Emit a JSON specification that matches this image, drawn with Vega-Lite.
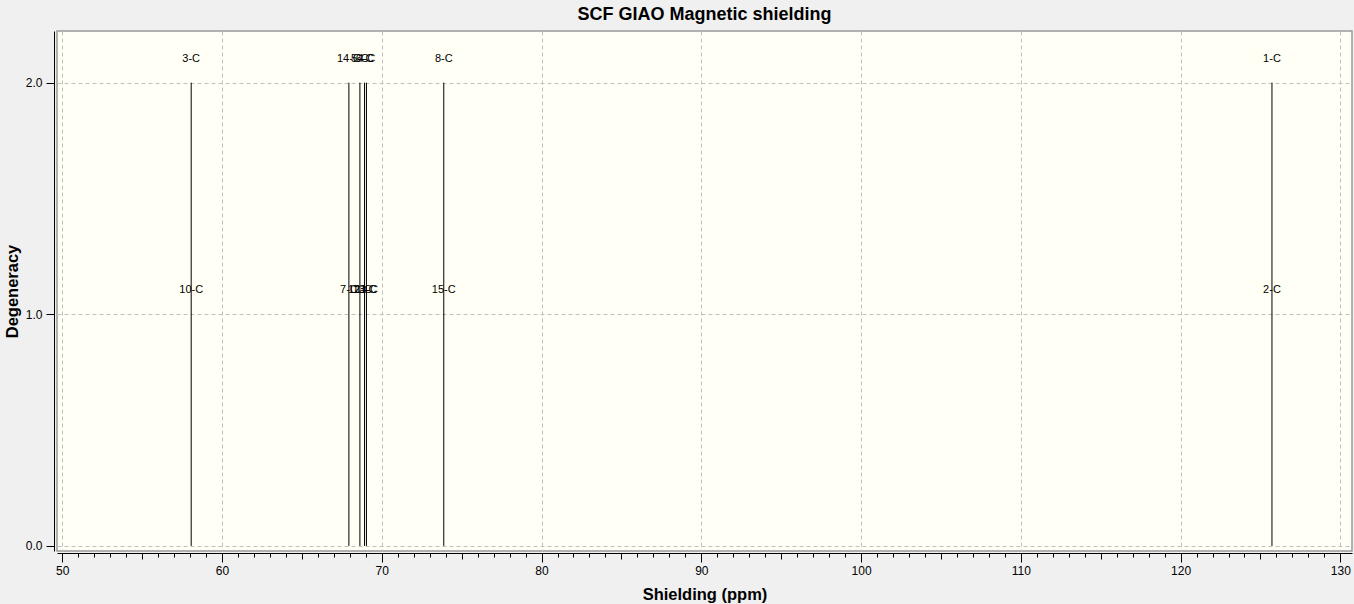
{
  "$schema": "https://vega.github.io/schema/vega-lite/v6.json",
  "autosize": {"type": "none"},
  "width": 1295,
  "height": 520,
  "padding": {"left": 57, "top": 31, "right": 2, "bottom": 53},
  "background": "#f0f0f0",
  "title": {
    "text": "SCF GIAO Magnetic shielding",
    "font": "Liberation Sans",
    "fontSize": 18,
    "fontWeight": "bold",
    "color": "#000000",
    "anchor": "middle",
    "offset": 7
  },
  "config": {
    "view": {"fill": "#fffff5", "stroke": "#999999", "strokeWidth": 1.5},
    "axis": {
      "labelFont": "Liberation Sans",
      "labelFontSize": 12,
      "labelColor": "#000000",
      "titleFont": "Liberation Sans",
      "titleFontSize": 16.5,
      "titleFontWeight": "bold",
      "titleColor": "#000000",
      "domainColor": "#000000",
      "tickColor": "#000000",
      "gridColor": "#c0c0c0",
      "gridDash": [4, 3],
      "gridWidth": 1
    }
  },
  "datasets": {
    "peaks": [
      {"ppm": 58.07, "deg": 2},
      {"ppm": 67.94, "deg": 2},
      {"ppm": 68.63, "deg": 2},
      {"ppm": 68.92, "deg": 2},
      {"ppm": 69.04, "deg": 2},
      {"ppm": 73.88, "deg": 2},
      {"ppm": 125.72, "deg": 2}
    ],
    "labels": [
      {"ppm": 58.07, "level": 2, "atom": "3-C"},
      {"ppm": 58.07, "level": 1, "atom": "10-C"},
      {"ppm": 67.94, "level": 2, "atom": "14-C"},
      {"ppm": 67.94, "level": 1, "atom": "7-C"},
      {"ppm": 68.63, "level": 2, "atom": "5-C"},
      {"ppm": 68.63, "level": 1, "atom": "12-C"},
      {"ppm": 68.92, "level": 2, "atom": "6-C"},
      {"ppm": 68.92, "level": 1, "atom": "13-C"},
      {"ppm": 69.04, "level": 2, "atom": "4-C"},
      {"ppm": 69.04, "level": 1, "atom": "11-C"},
      {"ppm": 73.88, "level": 2, "atom": "8-C"},
      {"ppm": 73.88, "level": 1, "atom": "15-C"},
      {"ppm": 125.72, "level": 2, "atom": "1-C"},
      {"ppm": 125.72, "level": 1, "atom": "2-C"}
    ]
  },
  "layer": [
    {
      "data": {"name": "peaks"},
      "mark": {"type": "rule", "color": "#000000", "strokeWidth": 1},
      "encoding": {
        "x": {
          "field": "ppm",
          "type": "quantitative",
          "scale": {"domain": [49.67, 130.73], "nice": false, "zero": false},
          "axis": {
            "title": "Shielding (ppm)",
            "titlePadding": 10,
            "offset": 2,
            "tickCount": 200,
            "format": "d",
            "values": [50,51,52,53,54,55,56,57,58,59,60,61,62,63,64,65,66,67,68,69,70,71,72,73,74,75,76,77,78,79,80,81,82,83,84,85,86,87,88,89,90,91,92,93,94,95,96,97,98,99,100,101,102,103,104,105,106,107,108,109,110,111,112,113,114,115,116,117,118,119,120,121,122,123,124,125,126,127,128,129,130],
            "labelExpr": "datum.value % 10 === 0 ? datum.label : ''",
            "labelOverlap": false,
            "labelFlush": false,
            "labelPadding": 3,
            "tickSize": {"condition": [{"test": "datum.value % 10 === 0", "value": 9}, {"test": "datum.value % 5 === 0", "value": 6}], "value": 4},
            "gridOpacity": {"condition": {"test": "datum.value % 10 === 0", "value": 1}, "value": 0}
          }
        },
        "y": {
          "field": "deg",
          "type": "quantitative",
          "scale": {"domain": [-0.022, 2.223], "nice": false, "zero": false},
          "axis": {
            "title": "Degeneracy",
            "values": [0, 1, 2],
            "format": ".1f",
            "offset": 3,
            "tickSize": 8,
            "labelPadding": 4,
            "titlePadding": 5
          }
        },
        "y2": {"datum": 0}
      }
    },
    {
      "data": {"name": "labels"},
      "mark": {"type": "text", "font": "Liberation Sans", "fontSize": 11, "color": "#000000", "baseline": "middle", "align": "center", "dy": -24},
      "encoding": {
        "x": {"field": "ppm", "type": "quantitative"},
        "y": {"field": "level", "type": "quantitative"},
        "text": {"field": "atom"}
      }
    }
  ]
}
